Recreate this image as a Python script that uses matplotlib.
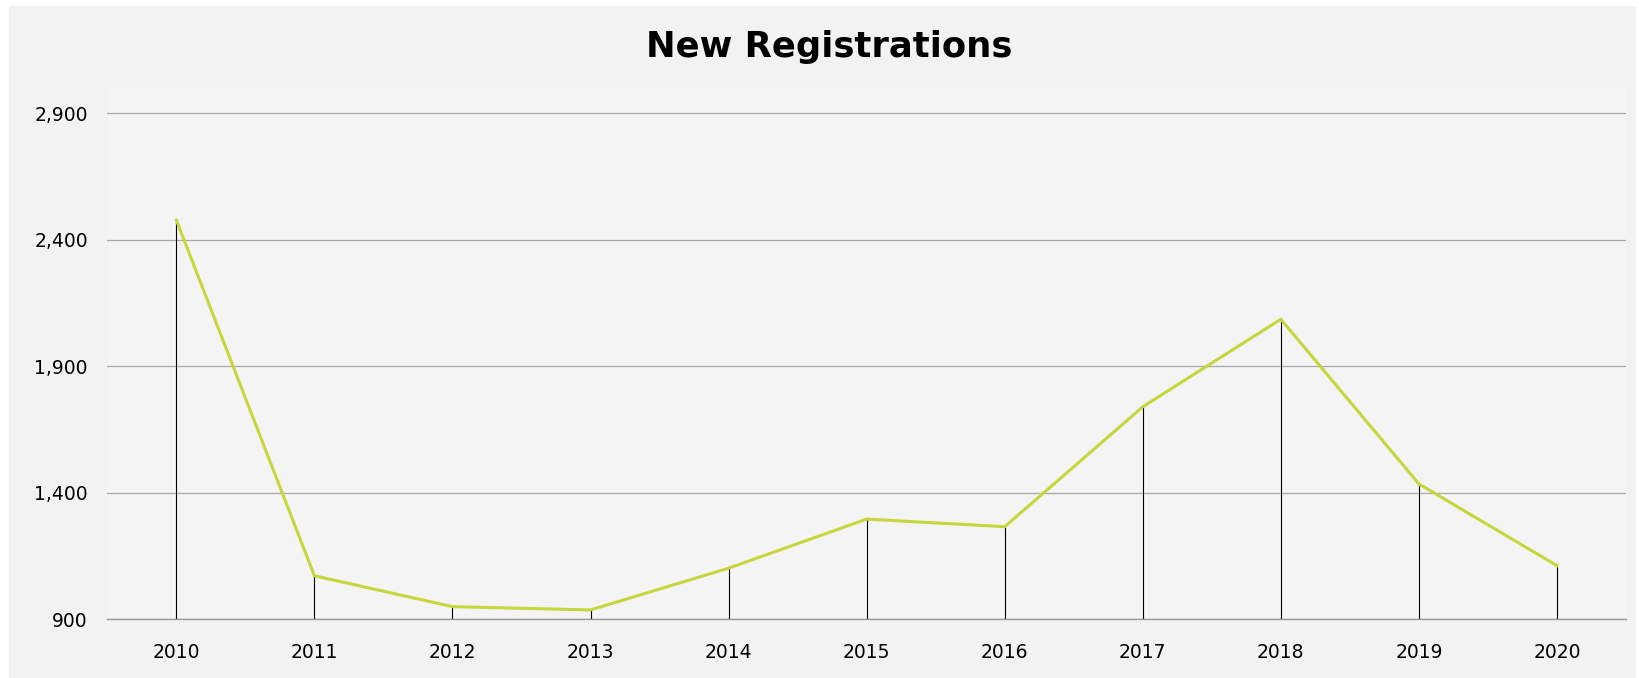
import matplotlib
matplotlib.use("Agg")
import matplotlib.pyplot as plt
from matplotlib.patches import Rectangle
from matplotlib.ticker import FuncFormatter

# data
years = ["2010", "2011", "2012", "2013", "2014", "2015",
         "2016", "2017", "2018", "2019", "2020"]
registrations = [2478, 1072, 950, 937, 1102, 1296, 1266, 1740, 2086, 1435, 1112]
y_ticks = [900, 1400, 1900, 2400, 2900]

W, H = 1639, 678
fig = plt.figure(figsize=(W / 100, H / 100), dpi=100, facecolor="white")

# grey panel behind everything
fig.patches.append(Rectangle((9 / W, 0), (1636 - 9) / W, (H - 6) / H,
                             transform=fig.transFigure, facecolor="#f2f2f2",
                             edgecolor="none", zorder=-1))

ax = fig.add_axes([107.3 / W, (H - 619.3) / H, (1626 - 107.3) / W, (619.3 - 88) / H])
ax.set_facecolor("#f4f4f4")

x = list(range(len(years)))

# grid lines
for t in y_ticks:
    ax.axhline(t, color="#a8a8a8", lw=0.9, zorder=1)

# drop lines from axis to each point
ax.vlines(x, y_ticks[0], registrations, color="black", lw=0.8, zorder=2)
ax.plot(x, registrations, color="#c6d63c", lw=2.2, zorder=3, solid_joinstyle="miter")

ax.set_xlim(-0.5, len(years) - 0.5)
ax.set_ylim(900, 3000)
ax.set_xticks(x)
ax.set_xticklabels(years)
ax.set_yticks(y_ticks)
ax.yaxis.set_major_formatter(FuncFormatter(lambda v, p: f"{int(v):,}"))
ax.tick_params(axis="y", length=0, pad=14, labelsize=13.5)
ax.tick_params(axis="x", length=0, pad=17, labelsize=13.5)

for s in ["top", "right", "left"]:
    ax.spines[s].set_visible(False)
ax.spines["bottom"].set_color("#999999")
ax.spines["bottom"].set_linewidth(1.0)
ax.spines["bottom"].set_zorder(4)

fig.text(829 / W, (H - 56.7) / H, "New Registrations", ha="center", va="baseline",
         fontsize=25.5, fontweight="bold")

plt.savefig("out.png", dpi=100, facecolor=fig.get_facecolor())
